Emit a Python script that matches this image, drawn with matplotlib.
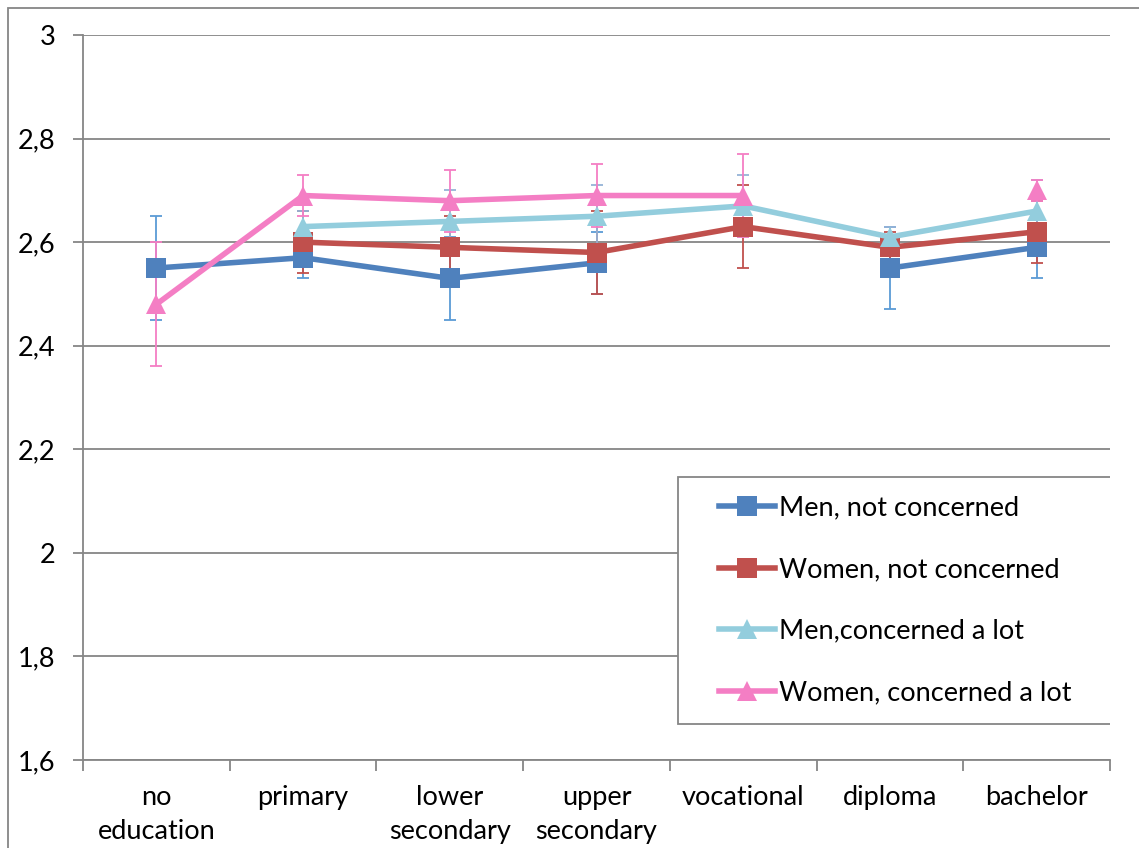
import matplotlib

matplotlib.use("Agg")
import matplotlib.pyplot as plt
import numpy as np
from matplotlib.patches import Rectangle
from matplotlib.ticker import FixedLocator, FuncFormatter

# =========================
# Datos
# =========================

categorias = ["no\neducation", "primary", "lower\nsecondary", "upper\nsecondary",
              "vocational", "diploma", "bachelor"]

series = ["Men, not concerned", "Women, not concerned",
          "Men,concerned a lot", "Women, concerned a lot"]

men_not = [2.55, 2.57, 2.53, 2.56, np.nan, 2.55, 2.59]
men_not_err = [0.10, 0.04, 0.08, 0.06, np.nan, 0.08, 0.06]

women_not = [np.nan, 2.60, 2.59, 2.58, 2.63, 2.59, 2.62]
women_not_err = [np.nan, 0.06, 0.06, 0.08, 0.08, 0.03, 0.06]

men_lot = [np.nan, 2.63, 2.64, 2.65, 2.67, 2.61, 2.66]
men_lot_err = [np.nan, 0.03, 0.06, 0.06, 0.06, 0.02, 0.06]

women_lot = [2.48, 2.69, 2.68, 2.69, 2.69, np.nan, 2.70]
women_lot_err = [0.12, 0.04, 0.06, 0.06, 0.08, np.nan, 0.02]

valores = [men_not, women_not, men_lot, women_lot]
errores = [men_not_err, women_not_err, men_lot_err, women_lot_err]
colores = ["#4F81BD", "#C0504D", "#93CDDD", "#F47EC4"]
colores_err = ["#5B9BD5", "#C0504D", "#95B3D7", "#F47EC4"]
marcadores = ["s", "s", "^", "^"]

y_ticks = [1.6, 1.8, 2.0, 2.2, 2.4, 2.6, 2.8, 3.0]

# =========================
# Grafico
# =========================

plt.rcParams["font.family"] = ["Lato", "DejaVu Sans"]
gris = "#868686"
tam_texto = 19.5
W, H = 1139, 848

fig = plt.figure(figsize=(W / 100, H / 100), dpi=100)
ax = fig.add_axes([83 / W, 1 - 760 / H, (1110 - 83) / W, (760 - 35) / H])

x = np.arange(len(categorias))
for nombre, vals, errs, color, color_err, marcador in zip(
        series, valores, errores, colores, colores_err, marcadores):
    ax.errorbar(x, vals, yerr=errs, fmt="none", ecolor=color_err,
                elinewidth=1.3, capsize=4.5, capthick=1.3, zorder=2)
    ax.plot(x, vals, color=color, linewidth=4, marker=marcador,
            markersize=14, markeredgewidth=0, label=nombre, zorder=3)

ax.set_xlim(-0.5, len(categorias) - 0.5)
ax.set_ylim(1.6, 3.0)
ax.set_yticks(y_ticks)
ax.yaxis.set_major_formatter(FuncFormatter(lambda v, _: f"{v:g}".replace(".", ",")))
ax.set_xticks(x)
ax.set_xticklabels(categorias, linespacing=1.45)
ax.xaxis.set_minor_locator(FixedLocator(np.arange(-0.5, len(categorias), 1.0)))
ax.tick_params(axis="x", which="major", length=0, pad=18, labelsize=tam_texto)
ax.tick_params(axis="x", which="minor", length=8, width=1.3, color=gris)
ax.tick_params(axis="y", length=7, width=1.3, color=gris, pad=13, labelsize=tam_texto)

ax.grid(True, axis="y", color=gris, linewidth=1.3)
ax.set_axisbelow(True)
for lado in ["top", "right"]:
    ax.spines[lado].set_visible(False)
for lado in ["left", "bottom"]:
    ax.spines[lado].set_color(gris)
    ax.spines[lado].set_linewidth(1.3)

# caja de la leyenda dibujada aparte (mas margen lateral que vertical)
caja = (678, 477, 1113, 724)
ax.add_artist(Rectangle((caja[0] / W, 1 - caja[3] / H),
                        (caja[2] - caja[0]) / W, (caja[3] - caja[1]) / H,
                        transform=fig.transFigure, facecolor="white",
                        edgecolor=gris, linewidth=1.3, zorder=4))
leg = ax.legend(loc="center",
                bbox_to_anchor=((caja[0] + caja[2]) / 2 / W, 1 - (caja[1] + caja[3]) / 2 / H),
                bbox_transform=fig.transFigure, fontsize=tam_texto, frameon=False,
                labelspacing=1.35, handlelength=2.05, handletextpad=0.15,
                borderpad=0, borderaxespad=0)
leg.set_zorder(5)

# borde exterior del area del grafico
fig.add_artist(Rectangle((8 / W, -0.1), 1.2, 1 - 8 / H + 0.1,
                         transform=fig.transFigure, fill=False,
                         edgecolor=gris, linewidth=1.3))

fig.savefig("out.png", dpi=100)
